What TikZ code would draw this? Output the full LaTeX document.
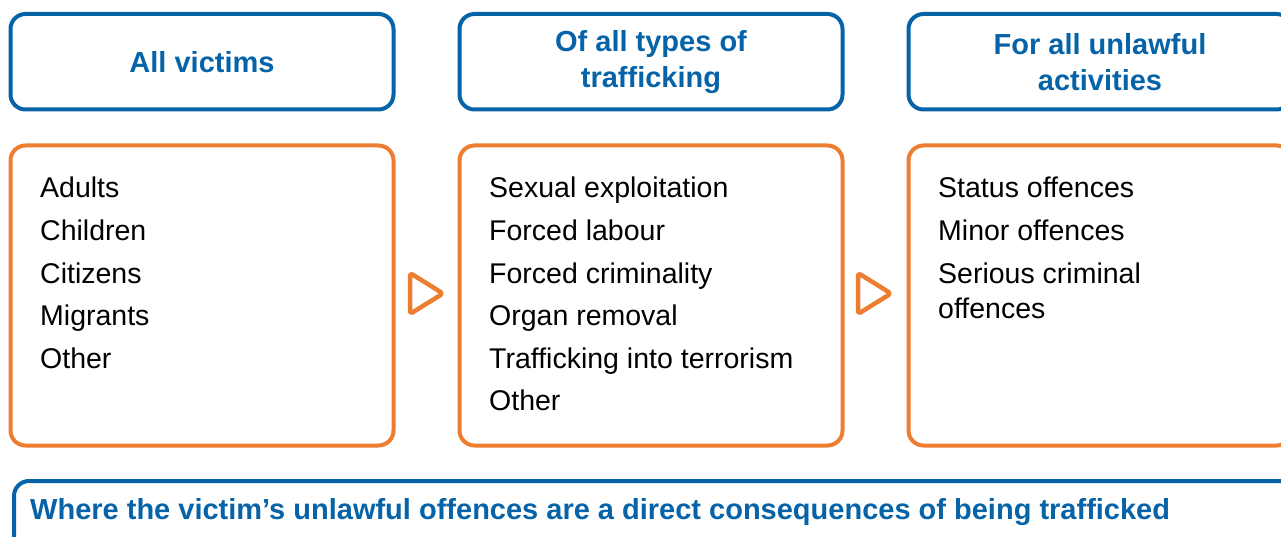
\documentclass[tikz,border=0pt]{standalone}
\usepackage{fontspec}
\setmainfont{Liberation Sans}

\definecolor{hdrblue}{RGB}{6,99,168}
\definecolor{listorange}{RGB}{237,125,49}

\begin{document}
\begin{tikzpicture}[x=1pt,y=-1pt,
	hdrbox/.style={shape=rectangle,draw=hdrblue,line width=4pt,rounded corners=15pt,
		minimum width=383pt,minimum height=95.5pt,align=center,text=hdrblue,
		font=\bfseries\fontsize{29}{36}\selectfont},
	listbox/.style={shape=rectangle,draw=listorange,line width=4pt,rounded corners=15pt,
		minimum width=383pt,minimum height=300pt},
	item/.style={anchor=base west,inner sep=0pt,font=\fontsize{28.5}{34}\selectfont},
	steptri/.style={draw=listorange,line width=4.5pt,line join=round,rounded corners=3pt}]
	
	\useasboundingbox (0,0) rectangle (1281,537);
	
	% headings
	\node[hdrbox] (who)   at (202, 61.75)  {All victims};
	\node[hdrbox] (types) at (651, 61.75)  {Of all types of\\trafficking};
	\node[hdrbox] (acts)  at (1100, 61.75) {For all unlawful\\activities};
	
	% lists
	\node[listbox] (whoList)   at (202, 295.5)  {};
	\node[listbox] (typesList) at (651, 295.5)  {};
	\node[listbox] (actsList)  at (1100, 295.5) {};
	
	\node[item] (adults)   at (40, 198)   {Adults};
	\node[item] (children) at (40, 240.5) {Children};
	\node[item] (citizens) at (40, 283)   {Citizens};
	\node[item] (migrants) at (40, 325.5) {Migrants};
	\node[item] (otherA)   at (40, 368)   {Other};
	
	\node[item] (sexual)    at (489, 198)   {Sexual exploitation};
	\node[item] (labour)    at (489, 240.5) {Forced labour};
	\node[item] (criminal)  at (489, 283)   {Forced criminality};
	\node[item] (organ)     at (489, 325.5) {Organ removal};
	\node[item] (terrorism) at (489, 368)   {Trafficking into terrorism};
	\node[item] (otherB)    at (489, 410.5) {Other};
	
	\node[item] (status)  at (938, 198)   {Status offences};
	\node[item] (minor)   at (938, 240.5) {Minor offences};
	\node[item] (serious) at (938, 283)   {Serious criminal};
	\node[item] (serious2) at (938, 318)  {offences};
	
	% step markers between the lists
	\draw[steptri] (410, 273) -- (443, 293.5) -- (410, 314) -- cycle;
	\draw[steptri] (858, 273) -- (891, 293.5) -- (858, 314) -- cycle;
	
	% condition at the bottom
	\node[shape=rectangle,draw=hdrblue,line width=4pt,rounded corners=15pt,
		minimum width=1296pt,minimum height=99pt] (cond) at (662, 530.5) {};
	\node[anchor=base west,inner sep=0pt,text=hdrblue,font=\bfseries\fontsize{29}{34}\selectfont]
		(condText) at (30, 519) {Where the victim’s unlawful offences are a direct consequences of being trafficked};
	
\end{tikzpicture}
\end{document}
